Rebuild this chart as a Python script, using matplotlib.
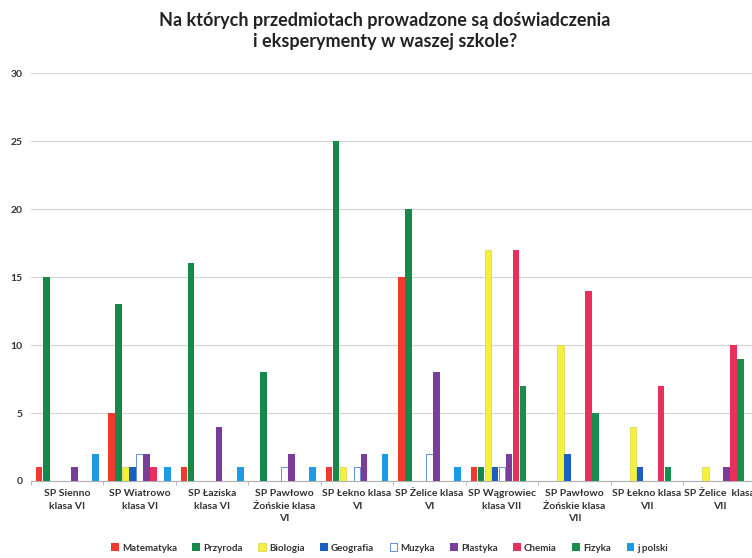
import numpy as np
import matplotlib.pyplot as plt

plt.rcParams['font.family'] = ['Lato', 'DejaVu Sans']

schools = ["SP Sienno\nklasa VI", "SP Wiatrowo\nklasa VI", "SP Łaziska\nklasa VI",
           "SP Pawłowo\nŻońskie klasa\nVI", "SP Łekno klasa\nVI", "SP Żelice klasa\nVI",
           "SP Wągrowiec\nklasa VII", "SP Pawłowo\nŻońskie klasa\nVII",
           "SP Łekno klasa\nVII", "SP Żelice  klasa\nVII"]

subjects = ["Matematyka", "Przyroda", "Biologia", "Geografia", "Muzyka",
            "Plastyka", "Chemia", "Fizyka", "j polski"]

matematyka = [1, 5, 1, 0, 1, 15, 1, 0, 0, 0]
przyroda   = [15, 13, 16, 8, 25, 20, 1, 0, 0, 0]
biologia   = [0, 1, 0, 0, 1, 0, 17, 10, 4, 1]
geografia  = [0, 1, 0, 0, 0, 0, 1, 2, 1, 0]
muzyka     = [0, 2, 0, 1, 1, 2, 1, 0, 0, 0]
plastyka   = [1, 2, 4, 2, 2, 8, 2, 0, 0, 1]
chemia     = [0, 1, 0, 0, 0, 0, 17, 14, 7, 10]
fizyka     = [0, 0, 0, 0, 0, 0, 7, 5, 1, 9]
j_polski   = [2, 1, 1, 1, 2, 1, 0, 0, 0, 0]

series = [matematyka, przyroda, biologia, geografia, muzyka,
          plastyka, chemia, fizyka, j_polski]
fills = ["#ee3b2e", "#16884a", "#f6f03a", "#1c5fc2", "white",
         "#7b3d9c", "#ea2f5c", "#17904e", "#1d9ae6"]
edges = ["#ee3b2e", "#16884a", "#d8d860", "#1c5fc2", "#4a7fd0",
         "#7b3d9c", "#ea2f5c", "#17904e", "#1d9ae6"]

fig = plt.figure(figsize=(7.52, 5.58), dpi=100)
ax = fig.add_axes([0.041, 0.138, 0.964, 0.731])

x = np.arange(len(schools))
w = 0.0966
for i, vals in enumerate(series):
    ax.bar(x + (i - 4) * w, vals, width=w * 0.98, color=fills[i],
           edgecolor=edges[i], linewidth=0.6 if i in (2, 4) else 0,
           label=subjects[i], zorder=3)

ax.set_xlim(-0.5, 9.5)
ax.set_ylim(0, 30)
ax.set_yticks(range(0, 31, 5))
ax.yaxis.grid(True, color="#d4d4d4", linewidth=0.8)
ax.set_axisbelow(True)
for s in ["left", "right", "top"]:
    ax.spines[s].set_visible(False)
ax.spines["bottom"].set_color("#b0b0b0")
ax.tick_params(axis="y", length=0, labelsize=7.5, colors="#333333", pad=6)
ax.set_xticks(x)
ax.set_xticklabels(schools, fontsize=7.5, color="#333333", linespacing=1.5)
ax.tick_params(axis="x", length=0, pad=6)
ax.set_xticks(np.arange(-0.5, 10, 1), minor=True)
ax.tick_params(axis="x", which="minor", length=3, color="#b0b0b0")
for t in ax.get_yticklabels():
    t.set_fontweight("bold")
for t in ax.get_xticklabels():
    t.set_fontweight("bold")

fig.text(0.512, 0.944, "Na których przedmiotach prowadzone są doświadczenia\ni eksperymenty w waszej szkole?",
         ha="center", va="center", fontsize=13, fontweight="bold", color="#222222",
         linespacing=1.25)

leg = fig.legend(loc="center", bbox_to_anchor=(0.518, 0.018), ncol=9, frameon=False,
                 fontsize=7, handlelength=0.8, handleheight=0.8, handletextpad=0.3,
                 columnspacing=1.6)
for t in leg.get_texts():
    t.set_fontweight("bold")
    t.set_color("#333333")

fig.savefig("out.png", dpi=100)
